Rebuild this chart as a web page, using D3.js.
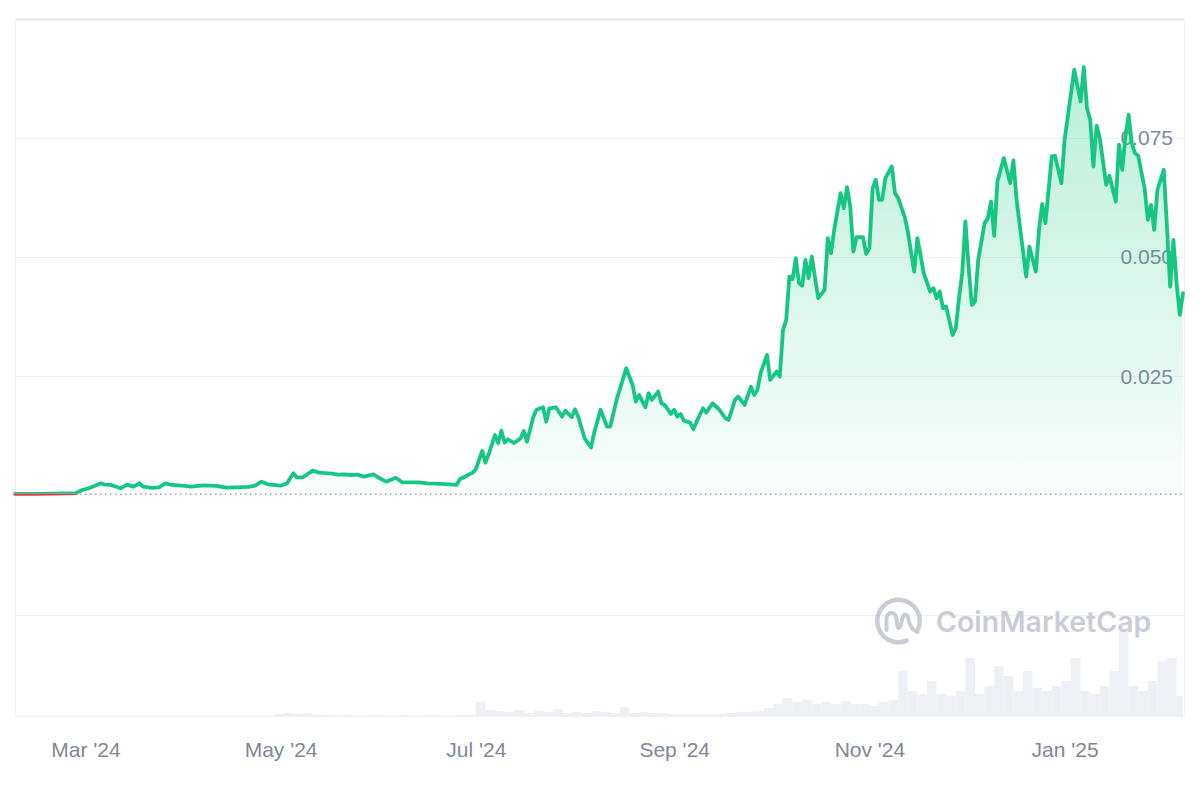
<!DOCTYPE html>
<html><head><meta charset="utf-8">
<script src="https://cdn.jsdelivr.net/npm/d3@7"></script>
<style>
html,body{margin:0;padding:0;background:#fff;}
svg{display:block;font-family:"Liberation Sans",Arial,Helvetica,sans-serif;}
</style></head><body>
<svg id="chart" width="1200" height="800"></svg>
<script>
// ---------- DATA ----------
const priceDates = [
"2024-02-08","2024-02-14","2024-02-20","2024-02-27","2024-02-29","2024-03-02","2024-03-06","2024-03-07","2024-03-09","2024-03-12",
"2024-03-14","2024-03-16","2024-03-18","2024-03-19","2024-03-22","2024-03-24","2024-03-26","2024-03-28","2024-03-31","2024-04-03",
"2024-04-07","2024-04-11","2024-04-14","2024-04-17","2024-04-21","2024-04-23","2024-04-25","2024-04-27","2024-05-01","2024-05-03",
"2024-05-05","2024-05-06","2024-05-08","2024-05-11","2024-05-13","2024-05-17","2024-05-19","2024-05-21","2024-05-23","2024-05-25",
"2024-05-27","2024-05-30","2024-06-01","2024-06-03","2024-06-06","2024-06-08","2024-06-13","2024-06-16","2024-06-20","2024-06-23",
"2024-06-25","2024-06-26","2024-06-28","2024-06-30","2024-07-01","2024-07-03","2024-07-04","2024-07-05","2024-07-07","2024-07-08",
"2024-07-09","2024-07-10","2024-07-11","2024-07-13","2024-07-15","2024-07-16","2024-07-17","2024-07-19","2024-07-20","2024-07-22",
"2024-07-23","2024-07-24","2024-07-26","2024-07-28","2024-07-29","2024-07-31","2024-08-01","2024-08-02","2024-08-04","2024-08-06",
"2024-08-07","2024-08-09","2024-08-11","2024-08-12","2024-08-14","2024-08-17","2024-08-19","2024-08-20","2024-08-21","2024-08-23",
"2024-08-24","2024-08-25","2024-08-27","2024-08-28","2024-08-29","2024-08-31","2024-09-01","2024-09-02","2024-09-03","2024-09-04",
"2024-09-06","2024-09-07","2024-09-08","2024-09-10","2024-09-11","2024-09-13","2024-09-15","2024-09-17","2024-09-18","2024-09-20",
"2024-09-21","2024-09-23","2024-09-25","2024-09-26","2024-09-27","2024-09-28","2024-09-30","2024-10-01","2024-10-03","2024-10-04",
"2024-10-05","2024-10-06","2024-10-07","2024-10-08","2024-10-09","2024-10-10","2024-10-11","2024-10-12","2024-10-13","2024-10-14",
"2024-10-16","2024-10-18","2024-10-19","2024-10-20","2024-10-21","2024-10-23","2024-10-24","2024-10-25","2024-10-26","2024-10-27",
"2024-10-28","2024-10-30","2024-10-31","2024-11-01","2024-11-02","2024-11-03","2024-11-04","2024-11-05","2024-11-06","2024-11-08",
"2024-11-09","2024-11-10","2024-11-12","2024-11-13","2024-11-15","2024-11-16","2024-11-18","2024-11-20","2024-11-21","2024-11-22",
"2024-11-23","2024-11-24","2024-11-25","2024-11-27","2024-11-28","2024-11-29","2024-11-30","2024-12-01","2024-12-02","2024-12-03",
"2024-12-04","2024-12-05","2024-12-07","2024-12-08","2024-12-09","2024-12-10","2024-12-11","2024-12-12","2024-12-13","2024-12-15",
"2024-12-16","2024-12-17","2024-12-20","2024-12-21","2024-12-23","2024-12-24","2024-12-25","2024-12-26","2024-12-28","2024-12-29",
"2024-12-31","2025-01-01","2025-01-04","2025-01-06","2025-01-07","2025-01-08","2025-01-09","2025-01-10","2025-01-11","2025-01-12",
"2025-01-14","2025-01-15","2025-01-17","2025-01-18","2025-01-19","2025-01-20","2025-01-21","2025-01-22","2025-01-23","2025-01-24",
"2025-01-26","2025-01-27","2025-01-28","2025-01-29","2025-01-30","2025-02-01","2025-02-03","2025-02-04","2025-02-05","2025-02-06",
"2025-02-07"
];
const priceValues = [
0.00035,0.00032,0.00040,0.00050,0.00116,0.00151,0.00256,0.00227,0.00221,0.00151,
0.00227,0.00185,0.00256,0.00185,0.00158,0.00172,0.00256,0.00221,0.00206,0.00185,
0.00214,0.00200,0.00164,0.00172,0.00179,0.00206,0.00290,0.00235,0.00206,0.00256,
0.00466,0.00382,0.00382,0.00521,0.00479,0.00458,0.00437,0.00445,0.00430,0.00437,
0.00395,0.00445,0.00361,0.00290,0.00374,0.00277,0.00277,0.00256,0.00242,0.00235,
0.00225,0.00340,0.00410,0.00479,0.00550,0.00935,0.00689,0.00865,0.01270,0.01100,
0.01360,0.01110,0.01180,0.01100,0.01200,0.01355,0.01130,0.01655,0.01800,0.01852,
0.01550,0.01830,0.01852,0.01655,0.01780,0.01642,0.01810,0.01655,0.01200,0.01010,
0.01320,0.01800,0.01445,0.01445,0.02006,0.02670,0.02320,0.01970,0.02110,0.01852,
0.02146,0.02006,0.02180,0.01936,0.01900,0.01712,0.01800,0.01655,0.01712,0.01571,
0.01529,0.01390,0.01550,0.01831,0.01739,0.01936,0.01810,0.01621,0.01586,0.02006,
0.02075,0.01900,0.02285,0.02110,0.02216,0.02566,0.02950,0.02426,0.02600,0.02495,
0.03476,0.03686,0.04595,0.04540,0.04981,0.04456,0.04400,0.04946,0.04561,0.05015,
0.04141,0.04316,0.05401,0.05086,0.05576,0.06346,0.06031,0.06472,0.06065,0.05120,
0.05422,0.05422,0.05072,0.05191,0.06451,0.06626,0.06206,0.06206,0.06661,0.06905,
0.06346,0.06241,0.05855,0.05540,0.04700,0.05401,0.04666,0.04280,0.04351,0.04141,
0.04280,0.03931,0.03965,0.03370,0.03511,0.04141,0.04666,0.05750,0.04805,0.04000,
0.04070,0.04946,0.05716,0.05821,0.06170,0.05450,0.06590,0.06836,0.07081,0.06556,
0.07031,0.06206,0.04595,0.05225,0.04700,0.05576,0.06122,0.05716,0.07115,0.07130,
0.06556,0.07466,0.08936,0.08270,0.08992,0.08131,0.07886,0.06905,0.07760,0.07501,
0.06521,0.06710,0.06170,0.07361,0.06836,0.07535,0.07990,0.07396,0.07186,0.07130,
0.06451,0.05786,0.06100,0.05576,0.06416,0.06836,0.04385,0.05366,0.04456,0.03790,
0.04246
];
// volume: one value per 3-day bucket starting at volumeStart (arbitrary units)
const volumeStart = "2024-02-08";
const volumeStepDays = 3;
const volumeValues = [
0.5,0.5,0.5,0.5,0.5,0.5,0.5,0.5,0.5,0.5,0.5,0.5,0.5,0.5,0.5,0.5,0.5,0.5,0.5,0.5,0.5,0.5,0.5,0.5,0.5,0.5,0.5,
2,3,2,3,1,
1,0.5,1,0.5,0.5,1,0.5,0.5,1,0.5,0.5,1,0.5,0.5,1,1,
14,6,5,4,6,3,5,4,7,3,
4,3,5,4,3,9,3,4,3,3,
2,2,2,2,2,2,3,4,4,5,
8,12,18,14,16,12,14,12,15,12,
12,10,14,16,45,25,22,35,22,20,
25,58,22,30,50,40,25,45,28,25,
30,35,58,25,22,30,45,85,30,25,
35,55,58,20
];
const xTickDates = ["2024-03-01","2024-05-01","2024-07-01","2024-09-01","2024-11-01","2025-01-01"];
const yTickValues = [0.025, 0.05, 0.075];
const gridValues = [-0.025, 0.025, 0.05, 0.075, 0.1];
const xDomain = ["2024-02-08","2025-02-07"];

// ---------- CHART ----------
const svg = d3.select("#chart");
const L = 15, R = 1184, T = 19, B = 716;
const parse = d3.utcParse("%Y-%m-%d");
const data = priceDates.map((d,i)=>({date: parse(d), value: priceValues[i]}));
const baselinePrice = priceValues[0];

const x = d3.scaleUtc().domain(xDomain.map(parse)).range([L, 1183]);
const y = d3.scaleLinear().domain([0, 0.1]).range([495.5, T]);
const yv = d3.scaleLinear().domain([0, 90]).range([B, B - 90]);

const defs = svg.append("defs");
const by = y(baselinePrice);
defs.append("clipPath").attr("id","clipAbove").append("rect")
  .attr("x",0).attr("y",0).attr("width",1200).attr("height",by);
defs.append("clipPath").attr("id","clipBelow").append("rect")
  .attr("x",0).attr("y",by).attr("width",1200).attr("height",800-by);
const grad = defs.append("linearGradient").attr("id","gFill")
  .attr("gradientUnits","userSpaceOnUse")
  .attr("x1",0).attr("x2",0).attr("y1", y(d3.max(priceValues))).attr("y2", by);
grad.append("stop").attr("offset","0%").attr("stop-color","#16c784").attr("stop-opacity",0.3);
grad.append("stop").attr("offset","100%").attr("stop-color","#16c784").attr("stop-opacity",0.02);

// grid
svg.append("g").selectAll("line").data(gridValues).join("line")
  .attr("x1", L).attr("x2", R)
  .attr("y1", d=>Math.round(y(d))+0.5).attr("y2", d=>Math.round(y(d))+0.5)
  .attr("stroke", d=> d===0.1 ? "#e6e8eb" : "#eff2f5")
  .attr("stroke-width", d=> d===0.1 ? 2 : 1);
// frame
svg.append("line").attr("x1",L+0.5).attr("x2",L+0.5).attr("y1",T).attr("y2",B).attr("stroke","#eff2f5");
svg.append("line").attr("x1",R+0.5).attr("x2",R+0.5).attr("y1",T).attr("y2",B).attr("stroke","#eff2f5");
svg.append("line").attr("x1",L).attr("x2",R).attr("y1",B+0.5).attr("y2",B+0.5).attr("stroke","#eff2f5");

// volume
const volDates = volumeValues.map((v,i)=>d3.utcDay.offset(parse(volumeStart), i*volumeStepDays));
svg.append("g").selectAll("rect").data(volumeValues).join("rect")
  .attr("x", (d,i)=>x(volDates[i]))
  .attr("width", (d,i)=>Math.max(0, Math.min(1183, x(d3.utcDay.offset(volDates[i], volumeStepDays))) - x(volDates[i])))
  .attr("y", d=>yv(d))
  .attr("height", d=>B - yv(d))
  .attr("fill", "#eef0f5");

// watermark
const wm = svg.append("g").attr("transform","translate(898.5,621)").attr("opacity",0.9);
wm.append("path")
  .attr("d", d3.arc().innerRadius(19).outerRadius(23.5).startAngle(2.65).endAngle(2.05 + 2*Math.PI).cornerRadius(2)())
  .attr("fill","#c4c8d1");
wm.append("path")
  .attr("d","M-12,9 L-12,-1 Q-12,-8 -7,-8 Q-3,-8 -2,-2 L-1,5 Q0,9 2,5 L4,-3 Q6,-9 9,-5 L11,2 Q13,9 19,11")
  .attr("fill","none").attr("stroke","#c4c8d1").attr("stroke-width",4)
  .attr("stroke-linecap","round").attr("stroke-linejoin","round");
svg.append("text").attr("x",936).attr("y",632)
  .attr("font-family","Inter, 'Noto Sans', sans-serif").attr("font-weight",600)
  .attr("font-size",28.5).attr("fill","#c4c8d1").attr("opacity",0.9)
  .text("CoinMarketCap");

// y labels (drawn under line)
const yAxis = svg.append("g").attr("transform","translate(1173,0)")
  .call(d3.axisLeft(y).tickValues(yTickValues).tickFormat(d3.format(".3f")).tickSize(0).tickPadding(0));
yAxis.select(".domain").remove();
yAxis.selectAll("text").attr("font-size",21).attr("fill","#80889a")
  .attr("font-family","'Liberation Sans', Arial, sans-serif");

// area
const area = d3.area().x(d=>x(d.date)).y0(by).y1(d=>y(d.value)).curve(d3.curveLinear);
svg.append("path").datum(data).attr("d", area).attr("fill","url(#gFill)").attr("clip-path","url(#clipAbove)");

// baseline dotted
svg.append("line").attr("x1",L).attr("x2",1183).attr("y1",by+0.5).attr("y2",by+0.5)
  .attr("stroke","#9ea4b3").attr("stroke-width",1.5).attr("stroke-dasharray","1.5,3.5");

// line
const line = d3.line().x(d=>x(d.date)).y(d=>y(d.value)).curve(d3.curveLinear);
svg.append("path").datum(data).attr("d", line).attr("fill","none")
  .attr("stroke","#16c784").attr("stroke-width",3.8).attr("stroke-linejoin","round").attr("stroke-linecap","round")
  .attr("clip-path","url(#clipAbove)");
svg.append("path").datum(data).attr("d", line).attr("fill","none")
  .attr("stroke","#ea3943").attr("stroke-width",3.8).attr("stroke-linejoin","round").attr("stroke-linecap","round")
  .attr("clip-path","url(#clipBelow)");

// x axis
const xAxis = svg.append("g").attr("transform",`translate(0,${B})`)
  .call(d3.axisBottom(x).tickValues(xTickDates.map(parse)).tickFormat(d3.utcFormat("%b '%y")).tickSize(0).tickPadding(26));
xAxis.select(".domain").remove();
xAxis.selectAll("text").attr("font-size",21).attr("fill","#80889a")
  .attr("font-family","'Liberation Sans', Arial, sans-serif");
</script>
</body></html>
